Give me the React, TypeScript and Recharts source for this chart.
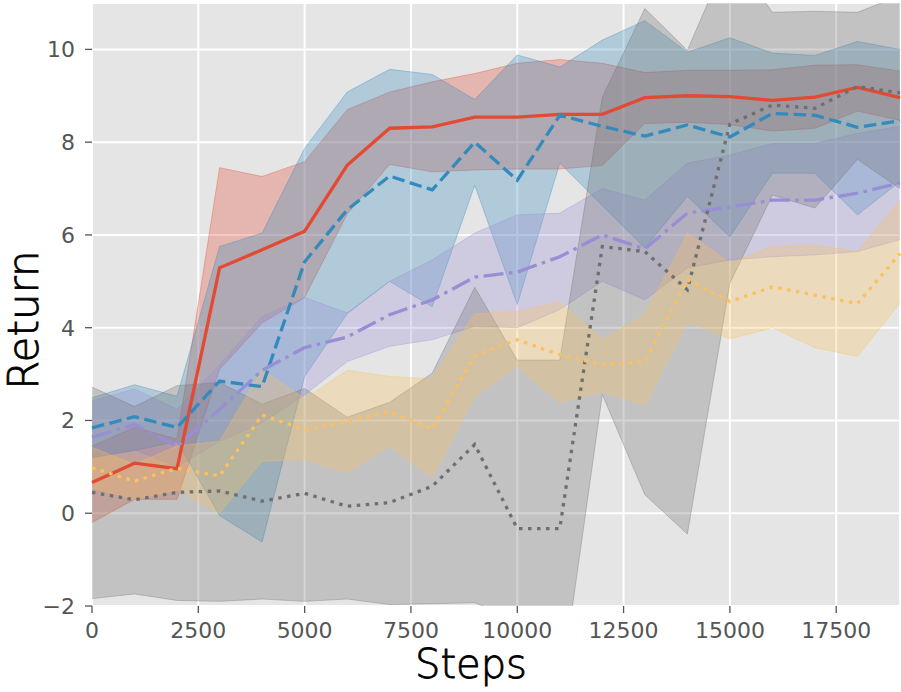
import { ComposedChart, Area, Line, XAxis, YAxis, CartesianGrid } from "recharts";

// training steps
const steps = [0, 1000, 2000, 3000, 4000, 5000, 6000, 7000, 8000, 9000, 10000, 11000, 12000, 13000, 14000, 15000, 16000, 17000, 18000, 19000];

const redMean = [0.66, 1.08, 0.96, 5.29, 5.68, 6.08, 7.5, 8.3, 8.33, 8.54, 8.54, 8.6, 8.6, 8.96, 9.0, 8.98, 8.9, 8.97, 9.18, 8.96];
const redLo = [-0.2, 0.3, 0.3, 3.1, 4.1, 4.65, 6.45, 7.52, 7.36, 7.4, 7.42, 7.42, 7.5, 8.4, 8.43, 8.38, 8.24, 8.3, 8.67, 8.47];
const redHi = [1.45, 1.85, 1.6, 7.45, 7.26, 7.58, 8.7, 9.08, 9.3, 9.48, 9.7, 9.78, 9.7, 9.5, 9.55, 9.55, 9.56, 9.66, 9.67, 9.53];

const blueMean = [1.84, 2.08, 1.85, 2.85, 2.73, 5.42, 6.54, 7.27, 6.97, 8.0, 7.18, 8.58, 8.34, 8.13, 8.37, 8.11, 8.62, 8.58, 8.32, 8.46];
const blueLo = [1.2, 1.35, 1.55, -0.05, -0.62, 2.95, 4.3, 5.0, 4.45, 7.07, 4.5, 7.55, 6.63, 5.72, 6.83, 5.96, 7.33, 7.33, 6.43, 7.15];
const blueHi = [2.49, 2.77, 2.52, 5.75, 6.04, 7.87, 9.08, 9.57, 9.46, 8.92, 9.88, 9.62, 10.2, 10.62, 9.94, 10.25, 9.92, 9.87, 10.17, 10.0];

const purpleMean = [1.64, 1.91, 1.44, 2.24, 3.08, 3.57, 3.8, 4.28, 4.6, 5.09, 5.2, 5.53, 6.0, 5.7, 6.47, 6.6, 6.75, 6.75, 6.9, 7.12];
const purpleLo = [1.2, 1.37, 1.0, 1.55, 1.95, 2.55, 3.27, 3.6, 3.74, 4.03, 4.0, 4.39, 5.0, 4.6, 5.29, 5.46, 5.53, 5.57, 5.64, 5.9];
const purpleHi = [2.42, 2.68, 2.24, 3.2, 4.24, 4.65, 4.32, 5.0, 5.46, 6.04, 6.43, 6.47, 7.0, 6.75, 7.55, 7.72, 7.97, 7.97, 8.19, 8.34];

const grayMean = [0.45, 0.29, 0.45, 0.48, 0.26, 0.43, 0.15, 0.23, 0.58, 1.48, -0.33, -0.33, 5.75, 5.64, 4.82, 8.39, 8.8, 8.73, 9.2, 9.06];
const grayLo = [-1.84, -1.74, -1.88, -1.9, -1.85, -1.9, -1.85, -1.97, -1.95, -1.93, -2.3, -3.95, 2.56, 0.4, -0.45, 4.96, 6.86, 6.58, 7.63, 7.0];
const grayHi = [2.72, 2.3, 2.75, 2.82, 2.35, 2.69, 2.07, 2.39, 3.02, 4.87, 3.3, 3.3, 8.97, 10.88, 9.98, 12.1, 10.8, 10.82, 10.8, 11.16];

const yellowMean = [0.98, 0.69, 0.97, 0.8, 2.12, 1.8, 1.98, 2.19, 1.82, 3.4, 3.74, 3.42, 3.2, 3.27, 5.03, 4.56, 4.88, 4.7, 4.52, 5.6];
const yellowLo = [0.55, 0.3, 0.5, 0.0, 1.12, 1.16, 0.88, 1.45, 0.77, 2.52, 3.17, 2.39, 2.62, 2.34, 4.13, 3.76, 4.0, 3.57, 3.38, 4.53];
const yellowHi = [1.42, 1.05, 1.45, 1.55, 3.1, 2.47, 3.08, 2.95, 2.9, 4.3, 4.35, 4.56, 3.74, 4.28, 6.04, 5.4, 5.75, 5.78, 5.64, 6.75];

const xTicks = [0, 2500, 5000, 7500, 10000, 12500, 15000, 17500];
const yTicks = [-2, 0, 2, 4, 6, 8, 10];

const series = [
  { key: "red", color: "#E24A33", dash: undefined, mean: redMean, lo: redLo, hi: redHi },
  { key: "blue", color: "#348ABD", dash: "12.5 5.5", mean: blueMean, lo: blueLo, hi: blueHi },
  { key: "purple", color: "#988ED5", dash: "20 5.5 3.5 5.5", mean: purpleMean, lo: purpleLo, hi: purpleHi },
  { key: "gray", color: "#6f6f6f", dash: "3.5 5.5", mean: grayMean, lo: grayLo, hi: grayHi },
  { key: "yellow", color: "#FBC15E", dash: "3.5 5.5", mean: yellowMean, lo: yellowLo, hi: yellowHi },
];

const data = steps.map((step, i) => {
  const row: Record<string, number | number[]> = { step };
  series.forEach((s) => {
    row[s.key] = s.mean[i];
    row[s.key + "Band"] = [s.lo[i], s.hi[i]];
  });
  return row;
});

const tickStyle = { fill: "#555555", fontSize: 22, fontFamily: "DejaVu Sans" };
const labelFont = "'DejaVu Sans', sans-serif";
const fmt = (v: number) => String(v).replace("-", "\u2212");

export default function App() {
  return (
    <div style={{ position: "absolute", left: 0, top: 0, background: "#fff" }}>
      <ComposedChart width={901} height={692} data={data} margin={{ top: 3, right: 1, bottom: 0, left: 0 }}>
        <CartesianGrid fill="#E5E5E5" stroke="#ffffff" strokeWidth={2} />
        <XAxis
          dataKey="step"
          type="number"
          domain={[0, 19000]}
          ticks={xTicks}
          height={86}
          axisLine={false}
          tickLine={{ stroke: "#555555", strokeWidth: 1.3 }}
          tickSize={7}
          tickMargin={9}
          tick={tickStyle}
          label={{
            content: () => (
              <text
                x={471}
                y={678}
                textAnchor="middle"
                fontSize={40}
                fontWeight={200}
                fontFamily={labelFont}
                fill="#000"
                stroke="#000"
                strokeWidth={0.8}
              >
                Steps
              </text>
            ),
          }}
        />
        <YAxis
          type="number"
          domain={[-2, 11]}
          allowDataOverflow
          ticks={yTicks}
          width={92}
          axisLine={false}
          tickLine={{ stroke: "#555555", strokeWidth: 1.3 }}
          tickSize={7}
          tickMargin={10}
          tick={tickStyle}
          tickFormatter={fmt}
          label={{
            content: () => (
              <text
                x={38}
                y={320}
                transform="rotate(-90 38 320)"
                textAnchor="middle"
                fontSize={42}
                fontWeight={200}
                fontFamily={labelFont}
                fill="#000"
                stroke="#000"
                strokeWidth={0.8}
              >
                Return
              </text>
            ),
          }}
        />
        {series.map((s) => (
          <Area
            key={s.key + "Band"}
            dataKey={s.key + "Band"}
            type="linear"
            fill={s.color}
            fillOpacity={0.3}
            stroke={s.color}
            strokeOpacity={0.35}
            strokeWidth={1}
            dot={false}
            activeDot={false}
            isAnimationActive={false}
          />
        ))}
        {series.map((s) => (
          <Line
            key={s.key}
            dataKey={s.key}
            type="linear"
            stroke={s.color}
            strokeWidth={3.3}
            strokeDasharray={s.dash}
            dot={false}
            activeDot={false}
            isAnimationActive={false}
          />
        ))}
      </ComposedChart>
    </div>
  );
}
